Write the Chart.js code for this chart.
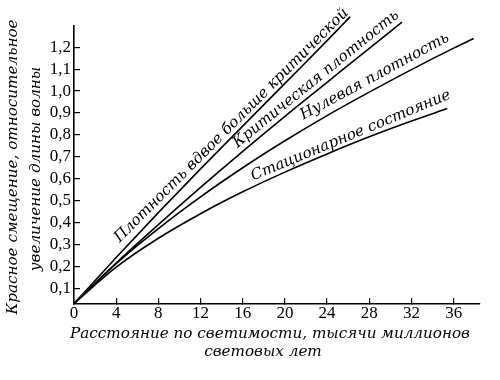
<!DOCTYPE html>
<html><head><meta charset="utf-8">
<script src="https://cdn.jsdelivr.net/npm/chart.js@4/dist/chart.umd.min.js"></script>
<style>html,body{margin:0;padding:0;background:#fff}#wrap{width:500px;height:380px}</style>
</head><body><div id="wrap"><canvas id="c" width="500" height="380"></canvas></div>
<script>
// ---- data ----
const xTicks = [0, 4, 8, 12, 16, 20, 24, 28, 32, 36];
const yTicks = [0.1, 0.2, 0.3, 0.4, 0.5, 0.6, 0.7, 0.8, 0.9, 1.0, 1.1, 1.2];
const seriesNames = ['Плотность вдвое больше критической', 'Критическая плотность', 'Нулевая плотность', 'Стационарное состояние'];
const twiceX = [0, 4, 8, 12, 16, 20, 24, 26.2];
const twiceY = [0.03, 0.24, 0.445, 0.645, 0.84, 1.035, 1.23, 1.34];
const critX = [0, 4, 8, 12, 16, 20, 24, 28, 31.1];
const critY = [0.03, 0.215, 0.39, 0.56, 0.725, 0.885, 1.04, 1.195, 1.315];
const zeroX = [0, 4, 8, 12, 16, 20, 24, 28, 32, 36, 37.9];
const zeroY = [0.03, 0.212, 0.372, 0.517, 0.65, 0.773, 0.888, 0.995, 1.098, 1.196, 1.24];
const steadyX = [0, 4, 8, 12, 16, 20, 24, 28, 32, 35.4];
const steadyY = [0.03, 0.196, 0.328, 0.44, 0.54, 0.63, 0.713, 0.791, 0.863, 0.92];
const xTitle = ['Расстояние по светимости, тысячи миллионов', 'световых лет'];
const yTitle = ['Красное смещение, относительное', 'увеличение длины волны'];

const pts = (xs, ys) => xs.map((x, i) => ({x, y: ys[i]}));
const seriesData = [pts(twiceX, twiceY), pts(critX, critY), pts(zeroX, zeroY), pts(steadyX, steadyY)];

// label placement (data coords of text centre, angle in degrees, extra lift in px)
const labelPlace = [
  {x: 15.2, y: 0.83, angle: -45.0, lift: 4},
  {x: 23.2, y: 1.04, angle: -39.0, lift: 4},
  {x: 28.7, y: 1.05, angle: -28.5, lift: 4},
  {x: 26.4, y: 0.78, angle: -22.6, lift: 4}
];

const italic = 'italic 15.2px "DejaVu Serif"';

const textPlugin = {
  id: 'texts',
  afterDraw(chart) {
    const ctx = chart.ctx, xs = chart.scales.x, ys = chart.scales.y;
    ctx.save();
    ctx.fillStyle = '#000';
    ctx.font = italic;
    ctx.textAlign = 'center';
    ctx.textBaseline = 'middle';
    labelPlace.forEach((p, i) => {
      ctx.save();
      ctx.translate(xs.getPixelForValue(p.x), ys.getPixelForValue(p.y));
      ctx.rotate(p.angle * Math.PI / 180);
      ctx.fillText(seriesNames[i], 0, -p.lift);
      ctx.restore();
    });
    // x title
    ctx.fillText(xTitle[0], 270, 334);
    ctx.fillText(xTitle[1], 263, 352);
    // y title
    ctx.save();
    ctx.translate(13, 167);
    ctx.rotate(-Math.PI / 2);
    ctx.fillText(yTitle[0], 0, 0);
    ctx.restore();
    ctx.save();
    ctx.translate(36, 169);
    ctx.rotate(-Math.PI / 2);
    ctx.fillText(yTitle[1], 0, 0);
    ctx.restore();
    ctx.restore();
  }
};

new Chart(document.getElementById('c'), {
  type: 'line',
  data: {
    datasets: seriesData.map((d, i) => ({
      label: seriesNames[i],
      data: d,
      borderColor: '#000',
      borderWidth: 1.6,
      pointRadius: 0,
      fill: false,
      cubicInterpolationMode: 'monotone',
      clip: false
    }))
  },
  options: {
    responsive: false,
    devicePixelRatio: 1,
    animation: false,
    layout: {padding: {left: 0, top: 26, right: 20, bottom: 0}},
    plugins: {legend: {display: false}, tooltip: {enabled: false}},
    scales: {
      x: {
        type: 'linear', min: 0, max: 38.5,
        afterBuildTicks: s => { s.ticks = xTicks.map(v => ({value: v})); },
        afterFit: s => { s.height = 76; },
        border: {display: true, color: '#000', width: 1.6},
        grid: {drawOnChartArea: false, color: '#000', lineWidth: 1.2, tickLength: -6},
        ticks: {color: '#000', font: {family: 'Liberation Serif', size: 17}, padding: 5, maxRotation: 0,
                callback: v => String(v)}
      },
      y: {
        type: 'linear', min: 0.028, max: 1.297,
        afterBuildTicks: s => { s.ticks = yTicks.map(v => ({value: v})); },
        afterFit: s => { s.width = 74; },
        border: {display: true, color: '#000', width: 1.6},
        grid: {drawOnChartArea: false, color: '#000', lineWidth: 1.2, tickLength: -6},
        ticks: {color: '#000', font: {family: 'Liberation Serif', size: 17}, padding: 9,
                callback: v => v.toFixed(1).replace('.', ',')}
      }
    }
  },
  plugins: [textPlugin]
});
</script>
</body></html>
